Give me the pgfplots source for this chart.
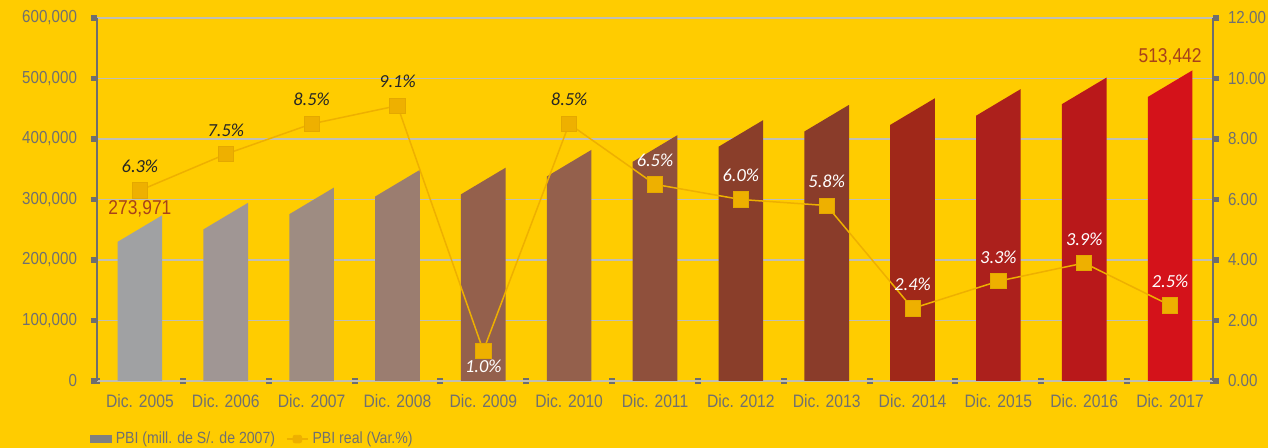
\documentclass[border=0pt]{standalone}
\usepackage{pgfplots}
\pgfplotsset{compat=1.18}
\usepackage{fontspec}
\setmainfont{Liberation Sans}[FakeStretch=0.87]
\newfontfamily\pctfont{Carlito}
\definecolor{bg}{RGB}{255,204,0}
\definecolor{axgray}{RGB}{110,110,110}
\definecolor{labgray}{RGB}{112,112,112}
\definecolor{gridgray}{RGB}{192,190,180}
\definecolor{linecol}{RGB}{238,176,0}
\definecolor{markedge}{RGB}{228,168,0}
\definecolor{vallab}{RGB}{168,66,26}
\definecolor{legbar}{RGB}{128,128,128}
\definecolor{c0}{RGB}{160,161,163}
\definecolor{c1}{RGB}{160,150,148}
\definecolor{c2}{RGB}{158,140,130}
\definecolor{c3}{RGB}{155,125,112}
\definecolor{c4}{RGB}{148,96,76}
\definecolor{c5}{RGB}{148,96,76}
\definecolor{c6}{RGB}{143,80,60}
\definecolor{c7}{RGB}{138,62,42}
\definecolor{c8}{RGB}{138,60,42}
\definecolor{c9}{RGB}{160,40,25}
\definecolor{c10}{RGB}{172,32,28}
\definecolor{c11}{RGB}{185,24,26}
\definecolor{c12}{RGB}{212,18,26}
\begin{document}
\begin{tikzpicture}
\fill[bg] (0,0) rectangle (634pt,224pt);
\begin{axis}[
  at={(48.5pt,33.5pt)}, anchor=south west,
  scale only axis, width=558pt, height=181.5pt,
  xmin=-0.5, xmax=12.5, ymin=0, ymax=600000,
  axis y line*=left, axis x line*=bottom,
  y axis line style={-, line width=1pt, color=axgray},
  x axis line style={-, line width=0.75pt, color=gridgray},
  ytick={0,100000,...,600000},
  scaled y ticks=false,
  yticklabel={\pgfmathprintnumber[fixed, precision=0, 1000 sep={,}, assume math mode=true]{\tick}},
  yticklabel style={font=\fontsize{8.7}{10}\selectfont, color=labgray, xshift=-3.5pt},
  xtick={0,...,12},
  xticklabels={Dic. 2005,Dic. 2006,Dic. 2007,Dic. 2008,Dic. 2009,Dic. 2010,Dic. 2011,Dic. 2012,Dic. 2013,Dic. 2014,Dic. 2015,Dic. 2016,Dic. 2017},
  xticklabel style={font=\fontsize{9}{10}\selectfont, color=labgray, yshift=0pt},
  minor xtick={-0.5,0.5,...,12.5},
  tick align=outside,
  major tick length=3pt, minor tick length=3pt,
  major x tick style={draw=none},
  minor x tick style={line width=3pt, color=axgray, yshift=1.4pt},
  y tick style={line width=2.8pt, color=axgray},
  ymajorgrids,
  major grid style={line width=0.75pt, color=gridgray},
  legend columns=2,
  legend style={draw=none, fill=none, at={(-0.012,-0.16)}, anchor=west,
    font=\fontsize{8.1}{10}\selectfont, text=labgray,
    /tikz/every even column/.append style={column sep=3.5pt}},
]
\addlegendimage{legend image code/.code={\fill[legbar] (0pt,-1.6pt) rectangle (10.5pt,1.6pt);}}
\addlegendentry{PBI (mill. de S/. de 2007)}
\addlegendimage{legend image code/.code={\draw[linecol, line width=0.75pt] (0pt,0pt) -- (10.5pt,0pt); \fill[linecol, rounded corners=1pt] (3.1pt,-1.9pt) rectangle (7.4pt,1.9pt);}}
\addlegendentry{PBI real (Var.\%)}
\addplot[fill=c0, draw=none, forget plot] coordinates {(-0.26,0) (-0.26,229971) (0.26,273971) (0.26,0)} -- cycle;
\addplot[fill=c1, draw=none, forget plot] coordinates {(0.74,0) (0.74,250598) (1.26,294598) (1.26,0)} -- cycle;
\addplot[fill=c2, draw=none, forget plot] coordinates {(1.74,0) (1.74,275693) (2.26,319693) (2.26,0)} -- cycle;
\addplot[fill=c3, draw=none, forget plot] coordinates {(2.74,0) (2.74,304923) (3.26,348923) (3.26,0)} -- cycle;
\addplot[fill=c4, draw=none, forget plot] coordinates {(3.74,0) (3.74,308584) (4.26,352584) (4.26,0)} -- cycle;
\addplot[fill=c5, draw=none, forget plot] coordinates {(4.74,0) (4.74,338081) (5.26,382081) (5.26,0)} -- cycle;
\addplot[fill=c6, draw=none, forget plot] coordinates {(5.74,0) (5.74,362256) (6.26,406256) (6.26,0)} -- cycle;
\addplot[fill=c7, draw=none, forget plot] coordinates {(6.74,0) (6.74,387199) (7.26,431199) (7.26,0)} -- cycle;
\addplot[fill=c8, draw=none, forget plot] coordinates {(7.74,0) (7.74,412435) (8.26,456435) (8.26,0)} -- cycle;
\addplot[fill=c9, draw=none, forget plot] coordinates {(8.74,0) (8.74,423308) (9.26,467308) (9.26,0)} -- cycle;
\addplot[fill=c10, draw=none, forget plot] coordinates {(9.74,0) (9.74,438506) (10.26,482506) (10.26,0)} -- cycle;
\addplot[fill=c11, draw=none, forget plot] coordinates {(10.74,0) (10.74,457581) (11.26,501581) (11.26,0)} -- cycle;
\addplot[fill=c12, draw=none, forget plot] coordinates {(11.74,0) (11.74,469442) (12.26,513442) (12.26,0)} -- cycle;
% value labels
\addplot[draw=none, mark=none, forget plot, point meta=explicit symbolic, nodes near coords,
  nodes near coords style={anchor=base, font=\fontsize{10}{11}\selectfont, text=vallab, yshift=0.5pt}]
  table[meta=lab] {
x y lab
0 273971 273,971
};
\addplot[draw=none, mark=none, forget plot, point meta=explicit symbolic, nodes near coords,
  nodes near coords style={anchor=base, font=\fontsize{10}{11}\selectfont, text=vallab, yshift=4pt}]
  table[meta=lab] {
x y lab
12 513442 513,442
};
\end{axis}
\begin{axis}[
  at={(48.5pt,33.5pt)}, anchor=south west,
  scale only axis, width=558pt, height=181.5pt,
  xmin=-0.5, xmax=12.5, ymin=0, ymax=12,
  axis y line*=right, axis x line=none,
  y axis line style={-, line width=1pt, color=axgray},
  ytick={0,2,...,12},
  yticklabel={\pgfmathprintnumber[fixed, fixed zerofill, precision=2, assume math mode=true]{\tick}},
  yticklabel style={font=\fontsize{8.7}{10}\selectfont, color=labgray, xshift=1pt},
  tick align=outside, major tick length=3pt,
  y tick style={line width=2.8pt, color=axgray},
]
\addplot[color=linecol, line width=0.75pt, mark=square*,
  mark options={draw=markedge, fill=linecol, rounded corners=1.8pt, line width=0.4pt}, mark size=3.8pt]
  table {
x y
0 6.3
1 7.5
2 8.5
3 9.1
4 1.0
5 8.5
6 6.5
7 6.0
8 5.8
9 2.4
10 3.3
11 3.9
12 2.5
};
% black labels above
\addplot[draw=none, mark=none, point meta=y,
  nodes near coords={\pgfmathprintnumber[fixed,fixed zerofill,precision=1,assume math mode=true]{\pgfplotspointmeta}\%},
  nodes near coords style={anchor=base, yshift=9pt, font=\pctfont\itshape\fontsize{9.2}{10}\selectfont, text=black!85}]
  table {
x y
0 6.3
1 7.5
2 8.5
3 9.1
5 8.5
};
% white labels above
\addplot[draw=none, mark=none, point meta=y,
  nodes near coords={\pgfmathprintnumber[fixed,fixed zerofill,precision=1,assume math mode=true]{\pgfplotspointmeta}\%},
  nodes near coords style={anchor=base, yshift=9pt, font=\pctfont\itshape\fontsize{9.2}{10}\selectfont, text=white}]
  table {
x y
6 6.5
7 6.0
8 5.8
9 2.4
10 3.3
11 3.9
12 2.5
};
% white label below
\addplot[draw=none, mark=none, point meta=y,
  nodes near coords={\pgfmathprintnumber[fixed,fixed zerofill,precision=1,assume math mode=true]{\pgfplotspointmeta}\%},
  nodes near coords style={anchor=base, yshift=-10.8pt, font=\pctfont\itshape\fontsize{9.2}{10}\selectfont, text=white}]
  table {
x y
4 1.0
};
\end{axis}
\pgfresetboundingbox
\useasboundingbox (0,0) rectangle (634pt,224pt);
\end{tikzpicture}
\end{document}
